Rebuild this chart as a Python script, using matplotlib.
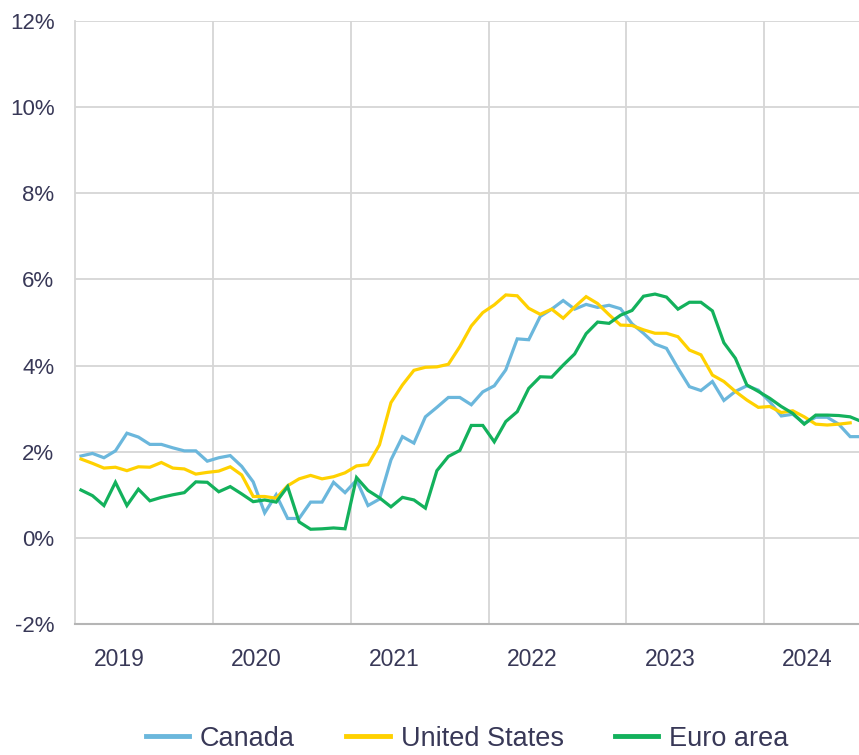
import matplotlib
matplotlib.use("Agg")
import matplotlib.pyplot as plt
import numpy as np
from matplotlib.ticker import FixedLocator, NullFormatter, FixedFormatter

canada = [1.90, 1.96, 1.86, 2.02, 2.43, 2.34, 2.17, 2.17, 2.09, 2.02, 2.02, 1.78,
          1.86, 1.91, 1.66, 1.30, 0.58, 1.00, 0.45, 0.45, 0.83, 0.83, 1.29, 1.05,
          1.34, 0.75, 0.90, 1.81, 2.35, 2.20, 2.81, 3.03, 3.26, 3.26, 3.09, 3.39,
          3.53, 3.90, 4.62, 4.60, 5.14, 5.31, 5.51, 5.31, 5.42, 5.35, 5.40, 5.32,
          4.97, 4.75, 4.50, 4.40, 3.94, 3.51, 3.42, 3.63, 3.19, 3.40, 3.53, 3.43,
          3.16, 2.83, 2.87, 2.66, 2.80, 2.80, 2.64, 2.35, 2.35]
united_states = [1.83, 1.73, 1.62, 1.64, 1.56, 1.65, 1.64, 1.75, 1.62, 1.60, 1.48, 1.52,
                 1.55, 1.65, 1.46, 0.96, 0.96, 0.92, 1.21, 1.37, 1.45, 1.37, 1.42, 1.51,
                 1.67, 1.70, 2.16, 3.14, 3.55, 3.89, 3.96, 3.97, 4.03, 4.44, 4.92, 5.23,
                 5.41, 5.64, 5.62, 5.33, 5.19, 5.31, 5.10, 5.36, 5.60, 5.44, 5.18, 4.94,
                 4.93, 4.83, 4.75, 4.75, 4.67, 4.36, 4.25, 3.78, 3.63, 3.40, 3.20, 3.03,
                 3.05, 2.91, 2.95, 2.81, 2.64, 2.62, 2.64, 2.67]
euro_area = [1.11, 0.98, 0.75, 1.29, 0.75, 1.13, 0.86, 0.94, 1.00, 1.05, 1.30, 1.29,
             1.07, 1.19, 1.02, 0.84, 0.88, 0.83, 1.19, 0.37, 0.20, 0.21, 0.23, 0.21,
             1.40, 1.10, 0.93, 0.72, 0.94, 0.88, 0.69, 1.56, 1.89, 2.03, 2.61, 2.61,
             2.23, 2.70, 2.93, 3.47, 3.74, 3.73, 4.01, 4.27, 4.74, 5.01, 4.98, 5.17,
             5.28, 5.61, 5.66, 5.59, 5.31, 5.47, 5.47, 5.27, 4.53, 4.17, 3.55, 3.40,
             3.24, 3.05, 2.89, 2.64, 2.85, 2.85, 2.84, 2.81, 2.70]
years = ["2019", "2020", "2021", "2022", "2023", "2024"]
y_ticks = [-2, 0, 2, 4, 6, 8, 10, 12]
series_names = ["Canada", "United States", "Euro area"]

plt.rcParams['font.family'] = ['Liberation Sans', 'DejaVu Sans']
text_color = "#383857"
grid_color = "#d6d6d6"

fig = plt.figure(figsize=(8.59, 7.55), dpi=100)
ax = fig.add_axes([75.25 / 859, 1 - 624 / 755, 1 - 75.25 / 859, (624 - 21) / 755])

x_end = 68.27
colors = ["#6bb7dc", "#ffd100", "#13b15c"]
for vals, name, c in zip([canada, united_states, euro_area], series_names, colors):
    x = np.arange(len(vals)) + 0.5
    ax.plot(x, vals, color=c, lw=2.3, label=name, solid_joinstyle="miter", zorder=3)

ax.set_xlim(0, x_end)
ax.set_ylim(-2, 12)

# y axis
ax.set_yticks(y_ticks)
ax.set_yticklabels([f"{v}%" for v in y_ticks])
ax.yaxis.grid(True, color=grid_color, lw=1.3)

# x axis: gridlines at year boundaries, labels inside each year
bounds = [12 * i for i in range(1, len(years))]
ax.xaxis.set_major_locator(FixedLocator(bounds))
ax.xaxis.set_major_formatter(NullFormatter())
centers = [12 * i + 3.8 for i in range(len(years))]
ax.xaxis.set_minor_locator(FixedLocator(centers))
ax.xaxis.set_minor_formatter(FixedFormatter(years))
ax.xaxis.grid(True, which="major", color=grid_color, lw=1.3)
ax.set_axisbelow(True)

ax.tick_params(axis="both", which="both", length=0, labelsize=16, colors=text_color)
ax.tick_params(axis="x", which="minor", pad=17, labelsize=16.5)
ax.tick_params(axis="y", pad=15)

for s in ["top", "right"]:
    ax.spines[s].set_visible(False)
ax.spines["left"].set_color(grid_color)
ax.spines["left"].set_linewidth(1.3)
ax.spines["bottom"].set_color("#b5b5b5")
ax.spines["bottom"].set_linewidth(1.5)

leg = ax.legend(loc="center", bbox_to_anchor=(0.5, -0.19), ncol=3, frameon=False,
                fontsize=19.5, handlelength=1.6, handletextpad=0.4, columnspacing=1.9)
for t in leg.get_texts():
    t.set_color(text_color)
for h in leg.get_lines():
    h.set_linewidth(3.5)

fig.savefig("out.png", dpi=100)
